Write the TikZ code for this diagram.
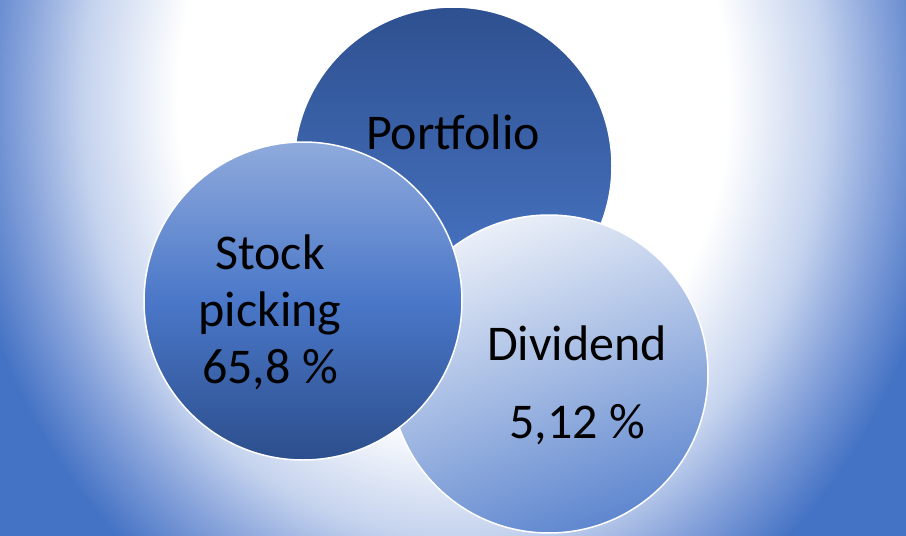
\documentclass[tikz,border=0pt]{standalone}
\usepackage{fontspec}
\setmainfont{Carlito}
\usepackage{tikz}

\definecolor{bgblue}{HTML}{4472C4}
\definecolor{bgmid}{HTML}{7E9CD8}
\definecolor{bglight}{HTML}{C5D3EE}
\definecolor{portTop}{HTML}{2E5090}
\definecolor{portBot}{HTML}{4B79C9}
\definecolor{stkTop}{HTML}{8FAADC}
\definecolor{stkMid}{HTML}{4A77C8}
\definecolor{stkBot}{HTML}{2C4E8C}
\definecolor{divTop}{HTML}{EAEFF8}
\definecolor{divBot}{HTML}{5F87CF}

% the path fills the inner 25bp of the shading
\pgfdeclareradialshading{bgglow}{\pgfpointorigin}{color(0bp)=(white); color(13.75bp)=(white); color(18.5bp)=(bglight); color(22bp)=(bgmid); color(25bp)=(bgblue); color(50bp)=(bgblue)}

\begin{document}
\begin{tikzpicture}[x=1pt, y=-1pt,
  bubble/.style={circle, minimum size=318pt, inner sep=0pt, draw=white, line width=1.5pt},
  bubbletext/.style={font=\fontsize{50}{57}\selectfont, text=black, inner sep=0pt}]
  % Background
  \useasboundingbox (0,0) rectangle (906,536);
  \begin{scope}
    \clip (0,0) rectangle (906,536);
    \fill[bgblue] (0,0) rectangle (906,536);
    \shade[shading=bgglow] (453,100) ellipse [x radius=500pt, y radius=590pt];
  \end{scope}

  % Bubbles
  \node[bubble, top color=portTop, bottom color=portBot] (portfolio) at (453,166) {};
  \node[bubble, top color=divTop, bottom color=divBot, shading angle=20] (dividend) at (549,374) {};
  \node[bubble, top color=stkTop, bottom color=stkBot, middle color=stkMid] (stock) at (303,301) {};

  % Texts
  \node[bubbletext, anchor=base] (porttext) at (453,149) {Portfolio};
  \node[bubbletext, align=center] (stocktext) at (270,312) {Stock\\picking\\65,8 \%};
  \node[bubbletext, anchor=base] (divname) at (577,360) {Dividend};
  \node[bubbletext, anchor=base] (divvalue) at (577,438) {5,12 \%};
\end{tikzpicture}
\end{document}
